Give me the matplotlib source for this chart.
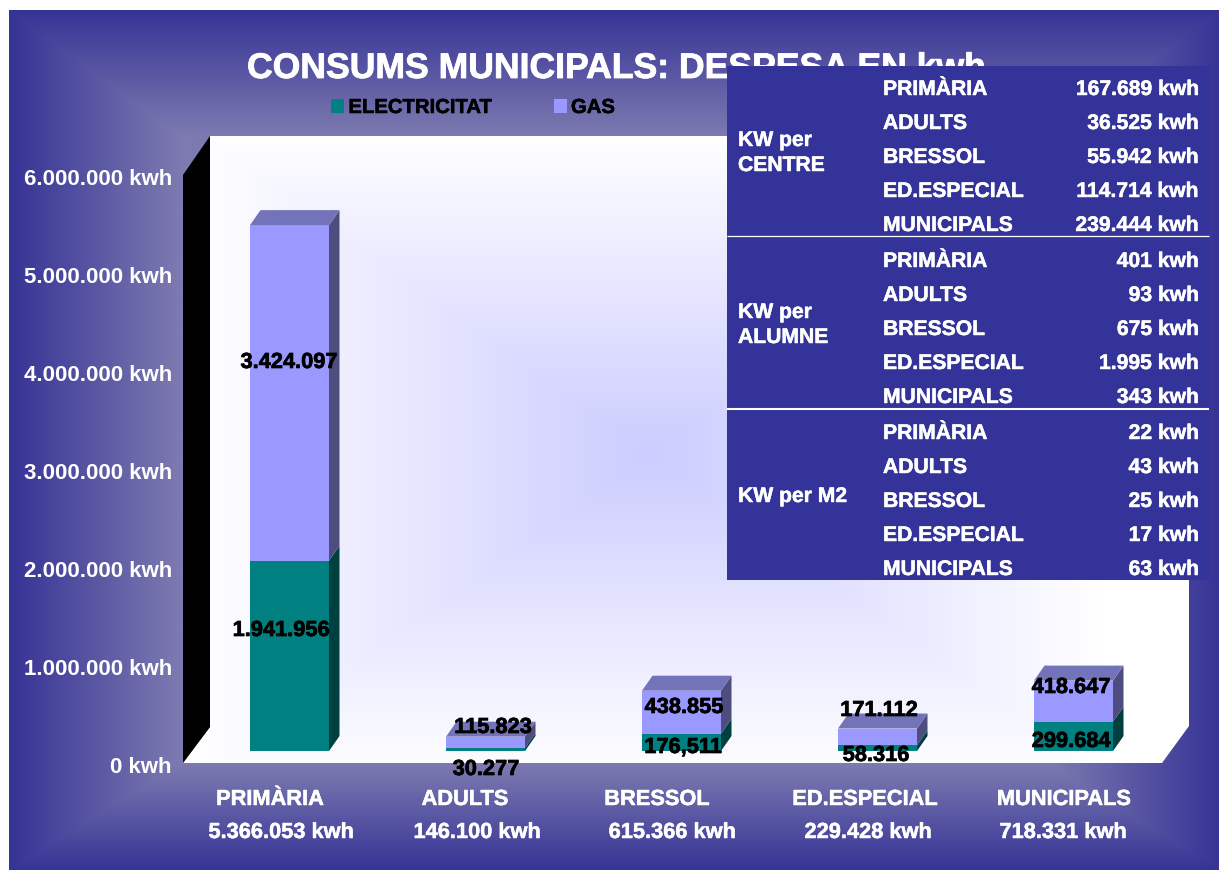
import numpy as np
import matplotlib
matplotlib.use('Agg')
import matplotlib.pyplot as plt
import matplotlib.patheffects as pe
from matplotlib.patches import Polygon, Patch, Rectangle
from matplotlib.transforms import Affine2D

plt.rcParams['font.family'] = ['Liberation Sans', 'DejaVu Sans']
plt.rcParams['font.weight'] = 'bold'

# Chart data
categories = ['PRIMÀRIA', 'ADULTS', 'BRESSOL', 'ED.ESPECIAL', 'MUNICIPALS']
totals = ['5.366.053 kwh', '146.100 kwh', '615.366 kwh', '229.428 kwh', '718.331 kwh']
electricitat = [1941956, 30277, 176511, 58316, 299684]
gas = [3424097, 115823, 438855, 171112, 418647]
electricitat_labels = ['1.941.956', '30.277', '176,511', '58.316', '299.684']
gas_labels = ['3.424.097', '115.823', '438.855', '171.112', '418.647']
y_ticks = [0, 1000000, 2000000, 3000000, 4000000, 5000000, 6000000]
y_tick_labels = ['0 kwh', '1.000.000 kwh', '2.000.000 kwh', '3.000.000 kwh',
                 '4.000.000 kwh', '5.000.000 kwh', '6.000.000 kwh']

# Side table
table_groups = [['KW per', 'CENTRE'], ['KW per', 'ALUMNE'], ['KW per M2']]
table_values = [
    ['167.689 kwh', '36.525 kwh', '55.942 kwh', '114.714 kwh', '239.444 kwh'],
    ['401 kwh', '93 kwh', '675 kwh', '1.995 kwh', '343 kwh'],
    ['22 kwh', '43 kwh', '25 kwh', '17 kwh', '63 kwh'],
]

# Layout, in image pixels
W, H = 1219, 870
PLOT_L, PLOT_R, PLOT_TOP, PLOT_BOT = 183, 1163, 177, 765
BAR_WIDTH = 79 / 196
SHIFT_X, SHIFT_Y = 8.5, 14
DEPTH_X, DEPTH_Y = 10.5 / 196, 15 * 6000000 / 588
BG_DARK = np.array([0x36, 0x33, 0x96]) / 255
BG_LIGHT = np.array([0x7C, 0x7A, 0xB0]) / 255
WALL_MID = np.array([0xCC, 0xCC, 0xFF]) / 255
TEAL, TEAL_SIDE = '#008080', '#004040'
LILAC, LILAC_SIDE, LILAC_TOP = '#9999FF', '#4D4D80', '#7373BA'
TABLE_BLUE = '#333399'

def heavy(color, width=0.35):
    # the original type is a bit heavier than Liberation bold
    return [pe.withStroke(linewidth=width, foreground=color)]

# the small extra stops 8.7 * 100 rounding down to 869 rows
fig = plt.figure(figsize=((W + 0.01) / 100, (H + 0.01) / 100), dpi=100, facecolor='white')

# Backdrop axes in pixel coordinates
bg = fig.add_axes([0, 0, 1, 1], zorder=0)
bg.set_xlim(0, W)
bg.set_ylim(H, 0)
bg.axis('off')

xx, yy = np.meshgrid(np.arange(W) + 0.5, np.arange(H) + 0.5)
t = np.minimum.reduce([(xx - 9) / 170, (W - xx) / 170, (yy - 11) / 125, (H - yy) / 105])
t = np.clip(t, 0, 1)[..., None]
panel = BG_DARK + (BG_LIGHT - BG_DARK) * t
panel = np.where(((xx >= 9) & (yy >= 11))[..., None], panel, 1.0)
bg.imshow(panel, extent=(0, W, H, 0), aspect='auto', zorder=0)

# Back wall and floor, white with a lilac glow in the middle
wall_shape = Polygon([(210, 136), (1189, 136), (1189, 726), (1162, 763), (183, 763), (210, 727)],
                     transform=bg.transData, facecolor='none', edgecolor='none')
bg.add_patch(wall_shape)
s = np.clip(np.maximum(np.abs(xx - 650) / 450, np.abs(yy - 455) / 320), 0, 1)[..., None]
wall = WALL_MID + (1 - WALL_MID) * s
wall_img = bg.imshow(wall, extent=(0, W, H, 0), aspect='auto', zorder=1)
wall_img.set_clip_path(wall_shape)
bg.add_patch(Polygon([(183, 175), (210, 136), (210, 727), (183, 763)], facecolor='black', zorder=2))
bg.set_xlim(0, W)
bg.set_ylim(H, 0)

bg.text(247, 78, 'CONSUMS MUNICIPALS: DESPESA EN kwh', color='white', fontsize=25.6,
        ha='left', va='baseline', zorder=3, path_effects=heavy('white', 0.6))

# Plot axes: front plane of the 3D box
ax = fig.add_axes([PLOT_L / W, 1 - PLOT_BOT / H, (PLOT_R - PLOT_L) / W, (PLOT_BOT - PLOT_TOP) / H], zorder=1)
ax.patch.set_alpha(0)
ax.set_xlim(-0.5, 4.5)
ax.set_ylim(0, 6000000)
for sp in ax.spines.values():
    sp.set_visible(False)
ax.set_xticks([])
ax.set_yticks(y_ticks, labels=y_tick_labels, color='white', fontsize=16, fontweight='bold')
ax.tick_params(axis='y', length=0, pad=8)

bar_tr = ax.transData + Affine2D().translate(SHIFT_X, SHIFT_Y)
x = np.arange(len(categories))
elec = np.array(electricitat)
gas_v = np.array(gas)

ax.bar(x, elec, width=BAR_WIDTH, color=TEAL, transform=bar_tr, clip_on=False, zorder=2, label='ELECTRICITAT')
ax.bar(x, gas_v, width=BAR_WIDTH, bottom=elec, color=LILAC, transform=bar_tr, clip_on=False, zorder=2, label='GAS')
for xi, e, g in zip(x, elec, gas_v):
    r = xi + BAR_WIDTH / 2
    l = xi - BAR_WIDTH / 2
    ax.fill([r, r + DEPTH_X, r + DEPTH_X, r], [0, DEPTH_Y, e + DEPTH_Y, e],
            color=TEAL_SIDE, lw=0, transform=bar_tr, clip_on=False, zorder=2)
    ax.fill([r, r + DEPTH_X, r + DEPTH_X, r], [e, e + DEPTH_Y, e + g + DEPTH_Y, e + g],
            color=LILAC_SIDE, lw=0, transform=bar_tr, clip_on=False, zorder=2)
    ax.fill([l, r, r + DEPTH_X, l + DEPTH_X], [e + g, e + g, e + g + DEPTH_Y, e + g + DEPTH_Y],
            color=LILAC_TOP, lw=0, transform=bar_tr, clip_on=False, zorder=2)
ax.set_xlim(-0.5, 4.5)
ax.set_ylim(0, 6000000)

# Everything placed by pixel goes on top
top = fig.add_axes([0, 0, 1, 1], zorder=2)
top.set_xlim(0, W)
top.set_ylim(H, 0)
top.axis('off')

# Value labels on the bars
elec_label_xy = [(281, 636), (486, 775), (683, 753), (876, 761), (1071, 747)]
gas_label_xy = [(289, 368), (493, 733), (684, 713), (879, 716), (1071, 693)]
for txt, (lx, ly) in zip(electricitat_labels + gas_labels, elec_label_xy + gas_label_xy):
    top.text(lx, ly, txt, color='black', fontsize=15.7, ha='center', va='baseline',
             path_effects=heavy('black', 0.5))

# Category names and totals under the box
cat_x = [270, 465, 657, 865, 1064]
total_x = [281, 477, 672, 868, 1063]
for name, total, cx, tx in zip(categories, totals, cat_x, total_x):
    top.text(cx, 805, name, color='white', fontsize=15.7, ha='center', va='baseline', path_effects=heavy('white'))
    top.text(tx, 838, total, color='white', fontsize=15.7, ha='center', va='baseline', path_effects=heavy('white'))

# Legend
handles = [Patch(facecolor=TEAL, label='ELECTRICITAT'), Patch(facecolor=LILAC, label='GAS')]
leg = top.legend(handles=handles, ncol=2, frameon=False, fontsize=14.6, labelcolor='black',
                 handlelength=0.64, handleheight=0.72, handletextpad=0.22, columnspacing=3.05,
                 borderpad=0, borderaxespad=0, loc='lower left',
                 bbox_to_anchor=(331, 117), bbox_transform=top.transData)
for lt in leg.get_texts():
    lt.set_path_effects(heavy('black', 0.4))

# Side table
top.add_patch(Rectangle((727, 66), 482, 514, facecolor=TABLE_BLUE, edgecolor='none'))
top.plot([727, 1209], [236.5, 236.5], color='white', lw=0.9, solid_capstyle='butt')
top.plot([727, 1209], [409, 409], color='white', lw=1.5, solid_capstyle='butt')
row_base = [[95, 129, 163, 197, 231], [267, 301, 335, 369, 403], [439, 473, 507, 541, 575]]
group_base = [[146, 171], [318, 343], [502]]
for lines, vals, rows, g_base in zip(table_groups, table_values, row_base, group_base):
    for line, gy in zip(lines, g_base):
        top.text(738, gy, line, color='white', fontsize=15.2, ha='left', va='baseline', path_effects=heavy('white'))
    for name, val, ry in zip(categories, vals, rows):
        top.text(883, ry, name, color='white', fontsize=15.2, ha='left', va='baseline', path_effects=heavy('white'))
        top.text(1199, ry, val, color='white', fontsize=15.2, ha='right', va='baseline', path_effects=heavy('white'))

fig.savefig('out.png', dpi=100)
